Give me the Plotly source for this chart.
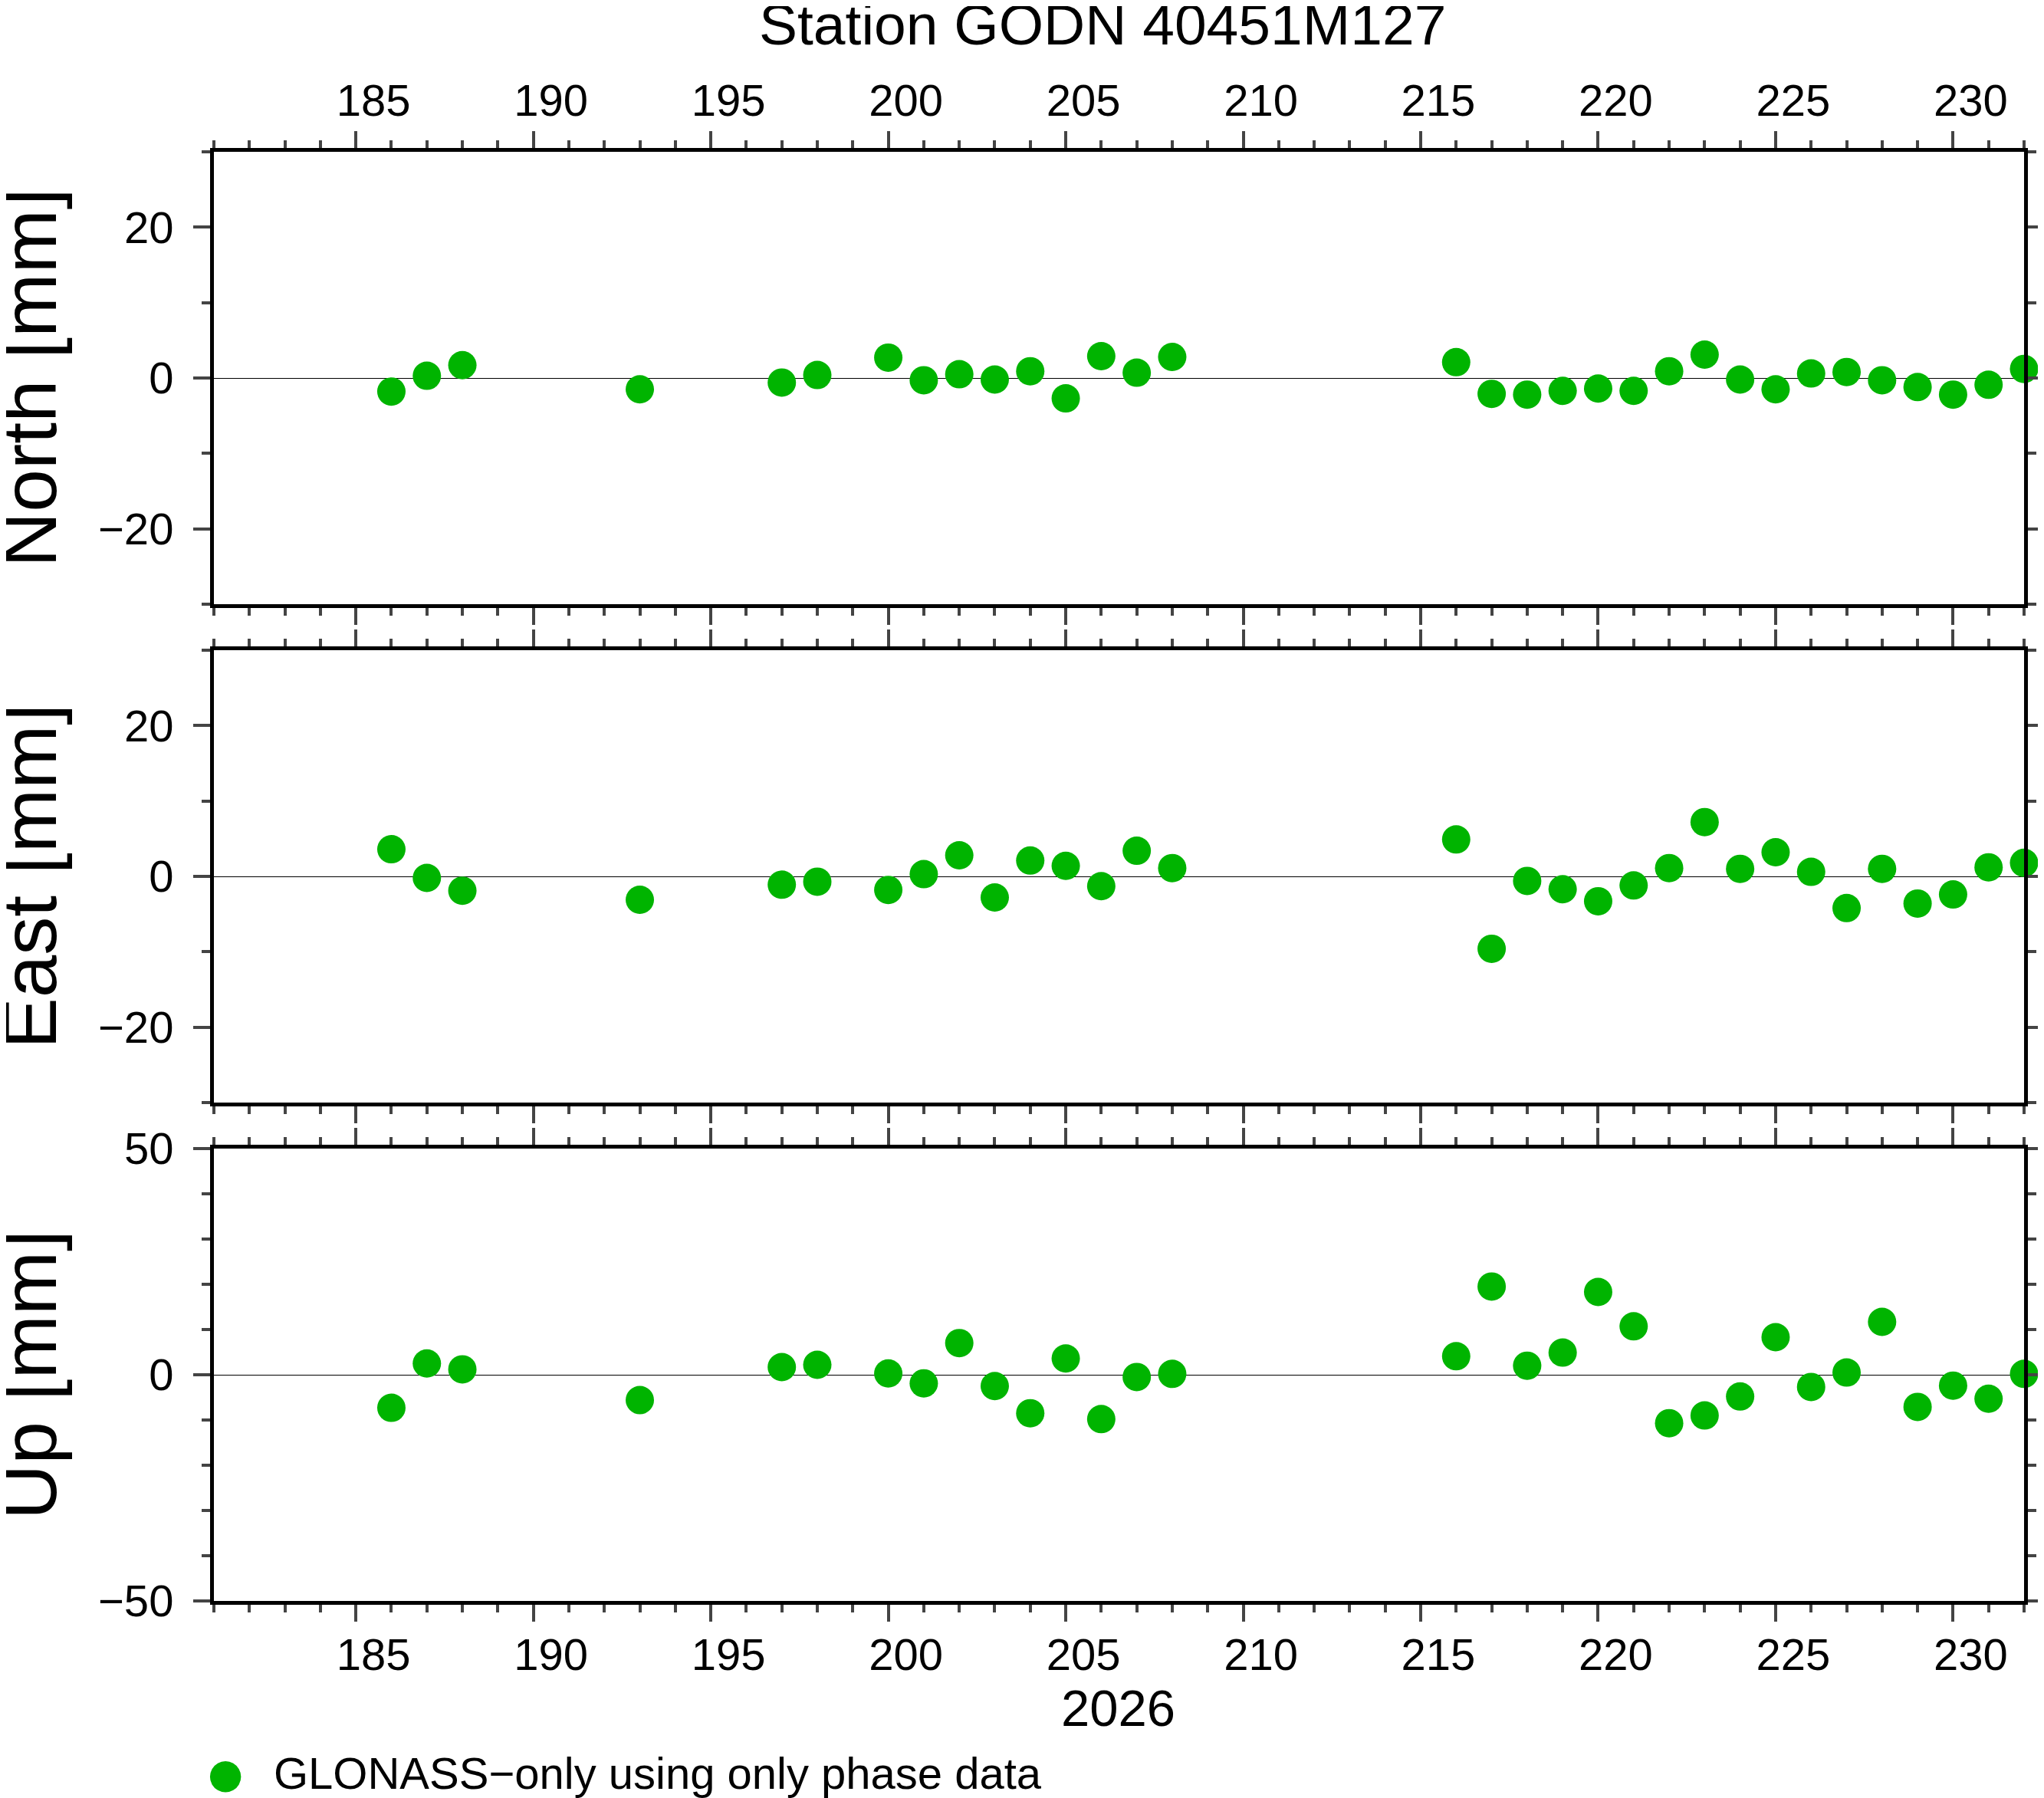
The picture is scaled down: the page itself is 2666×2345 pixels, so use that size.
import plotly.graph_objects as go

# ===== data =====
days = [186, 187, 188, 193, 197, 198, 200, 201, 202, 203, 204, 205, 206, 207, 208,
        216, 217, 218, 219, 220, 221, 222, 223, 224, 225, 226, 227, 228, 229, 230, 231, 232]

north = [-1.8, 0.3, 1.7, -1.5, -0.6, 0.4, 2.7, -0.3, 0.5, -0.2, 0.9, -2.7, 2.9, 0.7, 2.8,
         2.1, -2.1, -2.2, -1.7, -1.4, -1.7, 0.9, 3.1, -0.2, -1.5, 0.6, 0.8, -0.3, -1.2, -2.2, -0.9, 1.2]

east = [3.6, -0.2, -1.9, -3.1, -1.1, -0.7, -1.8, 0.3, 2.8, -2.8, 2.1, 1.4, -1.3, 3.4, 1.1,
        4.9, -9.6, -0.6, -1.7, -3.3, -1.2, 1.1, 7.2, 1.0, 3.2, 0.6, -4.2, 1.0, -3.6, -2.4, 1.2, 1.8]

up = [-7.3, 2.5, 1.2, -5.6, 1.7, 2.2, 0.3, -1.9, 7.0, -2.5, -8.5, 3.6, -9.8, -0.5, 0.2,
      4.1, 19.5, 2.0, 4.9, 18.3, 10.7, -10.7, -9.0, -4.8, 8.3, -2.7, 0.5, 11.7, -7.1, -2.4, -5.3, 0.2]

panels = [("North [mm]", north, 30, 20), ("East [mm]", east, 30, 20), ("Up [mm]", up, 50, 50)]

TITLE = "Station GODN 40451M127"
XTITLE = "2026"
SERIES = "GLONASS\u2212only using only phase data"
GREEN = "rgb(0,180,0)"

# page is 2666x2345, the html body adds an 8px margin
W, H = 2666, 2345
OFF = 8
FW, FH = W - OFF, H - OFF
FONT = "Liberation Sans"


def px(x):
    return (x - OFF) / FW


def py(y):
    return 1 - (y - OFF) / FH


# panel boxes in page pixels
X0, X1 = 279, 2640
TOPS = [198, 848, 1498]
PH = 590

fig = go.Figure()

for i, (label, vals, lim, major) in enumerate(panels):
    n = "" if i == 0 else str(i + 1)
    fig.add_trace(go.Scatter(
        x=days, y=vals, mode="markers",
        xaxis="x" + n, yaxis="y" + n,
        marker=dict(size=37, color=GREEN, line=dict(width=0)),
        cliponaxis=False, showlegend=False, name=SERIES,
    ))

    top = TOPS[i]
    side = "top" if i == 0 else "bottom"
    fig.update_layout({
        "xaxis" + n: dict(
            domain=[px(X0), px(X1)], anchor="y" + n, range=[181, 232],
            side=side, showticklabels=(i != 1),
            tick0=185, dtick=5, ticks="outside", ticklen=22, tickwidth=3.5,
            ticklabelshift=23, ticklabelstandoff=(-3 if i == 0 else -7),
            minor=dict(dtick=1, ticks="outside", ticklen=10, tickwidth=3.5, showgrid=False),
            showline=True, linewidth=5, linecolor="black", mirror="allticks",
            showgrid=False, zeroline=False, automargin=False,
            tickfont=dict(size=58, color="black", family=FONT),
        ),
        "yaxis" + n: dict(
            domain=[py(top + PH), py(top)], anchor="x" + n, range=[-lim, lim],
            tick0=0, dtick=major, ticks="outside", ticklen=22, tickwidth=3.5,
            ticklabelstandoff=14,
            minor=dict(dtick=10, ticks="outside", ticklen=11, tickwidth=3.5, showgrid=False),
            showline=True, linewidth=5, linecolor="black", mirror="allticks",
            showgrid=False, zeroline=True, zerolinecolor="black", zerolinewidth=1,
            automargin=False,
            tickfont=dict(size=58, color="black", family=FONT),
        ),
    })

    # axis title
    fig.add_annotation(
        text=label, textangle=-90, x=px(38), y=py(top + PH / 2),
        xref="paper", yref="paper", xanchor="center", yanchor="middle",
        showarrow=False, font=dict(size=100, color="black", family=FONT),
    )

fig.add_annotation(
    text=TITLE, x=px(1438), y=py(32), xref="paper", yref="paper",
    xanchor="center", yanchor="middle", showarrow=False,
    font=dict(size=75, color="black", family=FONT),
)
fig.add_annotation(
    text=XTITLE, x=px(1458), y=py(2227), xref="paper", yref="paper",
    xanchor="center", yanchor="middle", showarrow=False,
    font=dict(size=67, color="black", family=FONT),
)

# legend line
fig.add_annotation(
    text="\u25cf", x=px(294), y=py(2312), xref="paper", yref="paper",
    xanchor="center", yanchor="middle", showarrow=False,
    font=dict(size=53, color=GREEN, family="DejaVu Sans"),
)
fig.add_annotation(
    text=SERIES, x=px(355), y=py(2312), xref="paper", yref="paper",
    xanchor="left", yanchor="middle", showarrow=False,
    font=dict(size=58, color="black", family=FONT),
)

fig.update_layout(
    template="none",
    width=FW, height=FH,
    margin=dict(l=0, r=0, t=0, b=0, pad=0),
    paper_bgcolor="white", plot_bgcolor="white",
    font=dict(family=FONT, color="black"),
)

fig.write_html("out.html")
